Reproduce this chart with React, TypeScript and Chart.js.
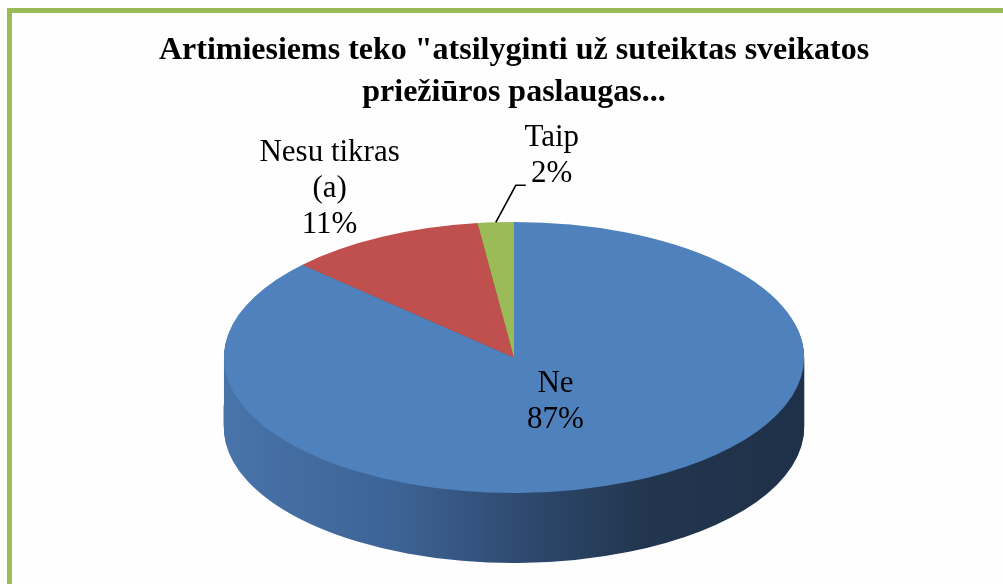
import React, { useEffect, useRef } from 'react';
import { Chart, registerables, ArcElement } from 'chart.js';

Chart.register(...registerables);

// ---- data ----
const titleLines = ['Artimiesiems teko "atsilyginti už suteiktas sveikatos', 'priežiūros paslaugas...'];
const categories = ['Ne', 'Nesu tikras (a)', 'Taip'];
const labelLines = [['Ne'], ['Nesu tikras', '(a)'], ['Taip']];
const values = [87, 11, 2];
const percentLabels = ['87%', '11%', '2%'];

// ---- style ----
const topColors = ['#4F81BD', '#C0504D', '#9BBB59'];
const SERIF = "'Liberation Serif', 'Times New Roman', serif";
const DEPTH = 70;
const TILT = 0.467; // vertical / horizontal ratio of the pie ellipse
const labelRadius = [0.36, 1.4, 1.0];
const leader = [false, false, true];

function sideFill(ctx: CanvasRenderingContext2D, i: number, x0: number, x1: number) {
  const g = ctx.createLinearGradient(x0, 0, x1, 0);
  if (i === 0) {
    g.addColorStop(0, '#4874AA');
    g.addColorStop(0.3, '#3D6395');
    g.addColorStop(0.5, '#2F4B72');
    g.addColorStop(0.72, '#22364F');
    g.addColorStop(1, '#1F3149');
  } else if (i === 1) {
    g.addColorStop(0, '#A04442');
    g.addColorStop(1, '#5E2726');
  } else {
    g.addColorStop(0, '#7F9C48');
    g.addColorStop(1, '#4C5E2C');
  }
  return g;
}

const pie3d = {
  id: 'pie3d',
  beforeDatasetDraw(chart: any, args: any) {
    const els = args.meta.data;
    const ctx = chart.ctx as CanvasRenderingContext2D;
    ctx.save();
    if (!els.length) return;
    const el0 = els[0];
    const cx = el0.x, cy = el0.y, R = el0.outerRadius;
    const sx = 1 / TILT;
    ctx.translate(cx, cy);
    ctx.scale(sx, 1);
    ctx.translate(-cx, -cy);
    const fills = els.map((_: any, i: number) => sideFill(ctx, i, cx - R, cx + R));
    for (let d = DEPTH; d >= 1; d--) {
      ctx.save();
      ctx.translate(0, d);
      els.forEach((el: any, i: number) => {
        const ghost = Object.create(el);
        ghost.options = { ...el.options, backgroundColor: fills[i], borderColor: fills[i], borderWidth: 0 };
        (ArcElement.prototype as any).draw.call(ghost, ctx);
      });
      ctx.restore();
    }
  },
  afterDatasetDraw(chart: any) {
    chart.ctx.restore();
  },
  afterDatasetsDraw(chart: any) {
    const meta = chart.getDatasetMeta(0);
    const els = meta.data;
    if (!els.length) return;
    const ctx = chart.ctx as CanvasRenderingContext2D;
    const el0 = els[0];
    const cx = el0.x, cy = el0.y;
    const ry = el0.outerRadius, rx = ry / TILT;
    ctx.save();
    ctx.fillStyle = '#000';
    ctx.strokeStyle = '#000';
    ctx.font = `31px ${SERIF}`;
    ctx.textAlign = 'center';
    ctx.textBaseline = 'middle';
    els.forEach((el: any, i: number) => {
      const mid = (el.startAngle + el.endAngle) / 2;
      const k = labelRadius[i];
      let px = cx + Math.cos(mid) * rx * k;
      let py = cy + Math.sin(mid) * ry * k;
      if (leader[i]) {
        ctx.lineWidth = 1.6;
        ctx.beginPath();
        ctx.moveTo(px, py);
        ctx.lineTo(px + 20, py - 37);
        ctx.lineTo(px + 30, py - 37);
        ctx.stroke();
        px += 56;
        py -= 66;
      }
      const lines = [...labelLines[i], percentLabels[i]];
      const lh = 36;
      lines.forEach((t, j) => {
        ctx.fillText(t, px, py + (j - (lines.length - 1) / 2) * lh);
      });
    });
    ctx.restore();
  },
};

export default function App() {
  const ref = useRef<HTMLCanvasElement>(null);
  useEffect(() => {
    if (!ref.current) return;
    const chart = new Chart(ref.current, {
      type: 'pie',
      data: {
        labels: categories,
        datasets: [
          {
            data: values,
            backgroundColor: topColors,
            borderWidth: 0,
          },
        ],
      },
      options: {
        responsive: false,
        animation: false,
        events: [],
        layout: { padding: { left: 25, right: 0, top: 0, bottom: 91 } },
        plugins: {
          legend: { display: false },
          tooltip: { enabled: false },
          title: {
            display: true,
            text: titleLines,
            color: '#000',
            font: { family: SERIF, size: 32, weight: 'bold', lineHeight: 1.3125 },
            padding: { top: 30, bottom: 108 },
          },
        },
      },
      plugins: [pie3d],
    });
    return () => chart.destroy();
  }, []);
  return (
    <div style={{ position: 'fixed', left: 0, top: 0, width: 1003, height: 584, overflow: 'hidden', background: '#fff' }}>
      <div
        style={{
          position: 'absolute',
          left: 7,
          top: 8,
          width: 1200,
          height: 800,
          borderLeft: '5px solid #9BBB59',
          borderTop: '5px solid #9BBB59',
          background: '#FEFEFE',
        }}
      />
      <canvas ref={ref} width={1003} height={584} style={{ position: 'absolute', left: 0, top: 0 }} />
    </div>
  );
}
